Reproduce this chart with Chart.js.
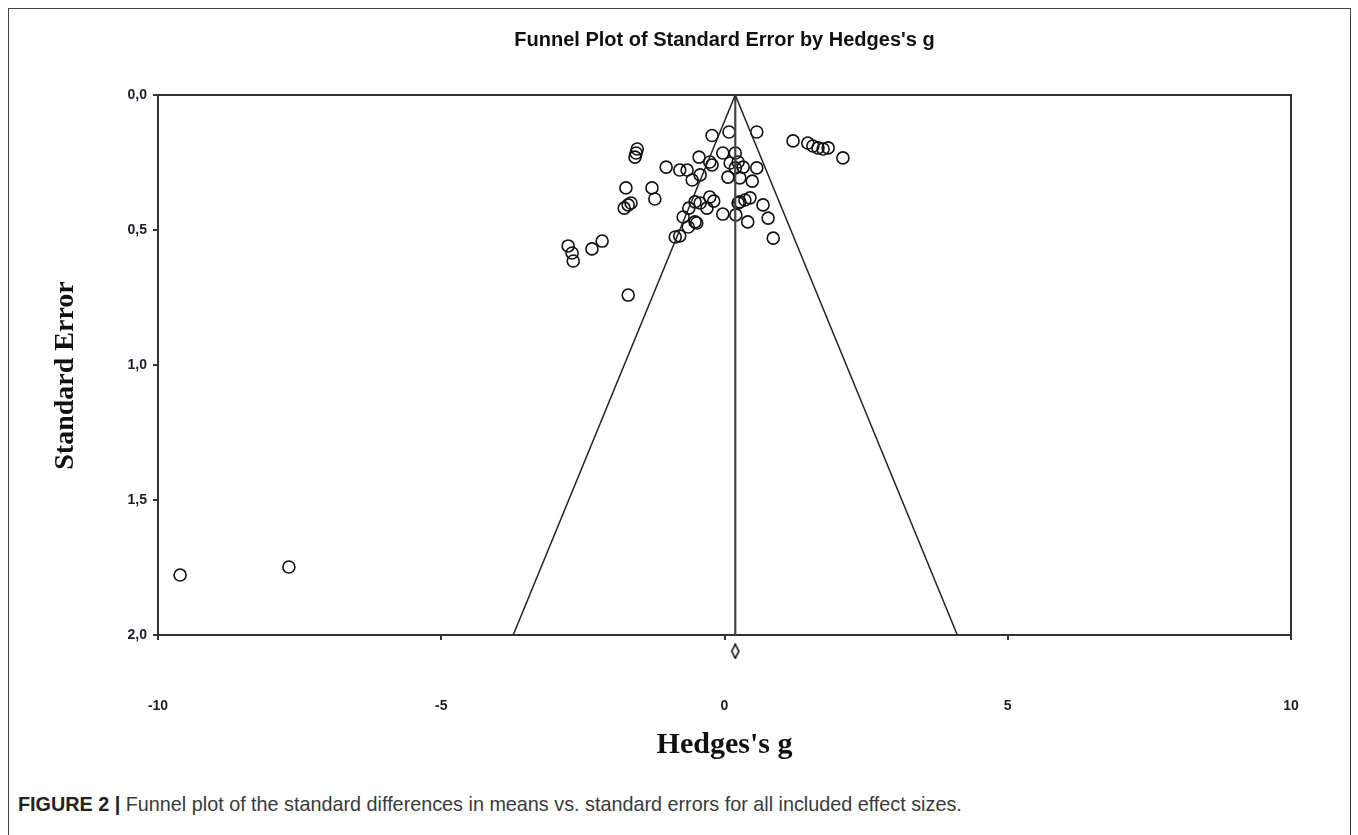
<!DOCTYPE html>
<html>
<head>
<meta charset="utf-8">
<script src="https://cdn.jsdelivr.net/npm/chart.js@4/dist/chart.umd.min.js"></script>
<style>
    body { margin: 0; background: #fff; width: 1358px; height: 835px; position: relative; overflow: hidden; }
    #frame { position: absolute; left: 8px; top: 8px; width: 1341px; height: 900px; border: 1px solid #444; }
    #wrap { position: absolute; left: 0; top: 0; width: 1358px; height: 780px; }
    #caption { position: absolute; left: 18px; top: 793px; font-family: "Liberation Sans", Arial, sans-serif; font-size: 19.8px; color: #3a3a3a; }
    #caption b { color: #222; }
</style>
</head>
<body>
<div id="frame"></div>
<div id="wrap"><canvas id="funnel"></canvas></div>
<div id="caption"><b>FIGURE 2 |</b> Funnel plot of the standard differences in means vs. standard errors for all included effect sizes.</div>
<script>
// study effect sizes (Hedges's g) and their standard errors
const hedgesG = [-0.22, 0.08, 0.57, 1.21, 1.47, 1.56, 1.65, 1.74, 1.83, 2.09,
    -1.54, -1.56, -1.58, -0.45, -0.03, 0.19, -0.26, -0.22, -1.03, -0.79,
    -0.66, -0.43, -0.57, 0.10, 0.24, 0.33, 0.19, 0.57, 0.06, 0.27,
    0.49, -1.74, -1.28, -1.23, -1.77, -1.70, -1.65, -0.52, -0.43, -0.26,
    -0.19, -0.31, 0.27, 0.36, 0.45, 0.24, 0.68, -0.03, 0.20, 0.41,
    0.77, 0.86, -0.73, -0.52, -0.64, -0.49, -0.87, -0.79, -2.76, -2.69,
    -2.67, -2.34, -2.16, -1.70, -9.61, -7.69, -0.63];
const stdError = [0.150, 0.137, 0.137, 0.170, 0.178, 0.189, 0.196, 0.200, 0.196, 0.233,
    0.200, 0.215, 0.230, 0.230, 0.215, 0.215, 0.248, 0.259, 0.267, 0.278,
    0.278, 0.296, 0.315, 0.252, 0.248, 0.267, 0.270, 0.270, 0.304, 0.307,
    0.319, 0.344, 0.344, 0.385, 0.419, 0.407, 0.400, 0.396, 0.400, 0.378,
    0.393, 0.419, 0.396, 0.389, 0.381, 0.400, 0.407, 0.441, 0.444, 0.470,
    0.456, 0.530, 0.452, 0.470, 0.489, 0.474, 0.526, 0.522, 0.559, 0.585,
    0.615, 0.570, 0.541, 0.741, 1.778, 1.748, 0.419];

const summaryG = 0.19;      // pooled effect
const summarySE = 2.06;     // where the summary diamond sits (below the axis)
const seMax = 2;
const z = 1.96;

const xTicks = [-10, -5, 0, 5, 10];
const yTicks = [0, 0.5, 1, 1.5, 2];

const points = hedgesG.map((g, i) => ({ x: g, y: stdError[i] }));
const leftLimit = [{ x: summaryG, y: 0 }, { x: summaryG - z * seMax, y: seMax }];
const rightLimit = [{ x: summaryG, y: 0 }, { x: summaryG + z * seMax, y: seMax }];
const centerLine = [{ x: summaryG, y: 0 }, { x: summaryG, y: seMax }];

// narrow diamond marker for the summary effect
function diamondMarker() {
    var c = document.createElement('canvas');
    c.width = 10; c.height = 16;
    var g = c.getContext('2d');
    g.strokeStyle = '#111';
    g.lineWidth = 1.6;
    g.beginPath();
    g.moveTo(5, 1); g.lineTo(8.5, 8); g.lineTo(5, 15); g.lineTo(1.5, 8);
    g.closePath();
    g.stroke();
    return c;
}

const boxLines = {
    id: 'boxLines',
    afterDatasetsDraw(chart) {
        const a = chart.chartArea;
        const ctx = chart.ctx;
        ctx.save();
        ctx.strokeStyle = '#333';
        ctx.lineWidth = 2;
        ctx.beginPath();
        ctx.moveTo(a.left, a.top);
        ctx.lineTo(a.right, a.top);
        ctx.lineTo(a.right, a.bottom);
        ctx.stroke();
        ctx.restore();
    }
};

const tickFont = { family: 'Arial, "Liberation Sans"', size: 14, weight: 'bold' };

new Chart(document.getElementById('funnel'), {
    type: 'scatter',
    data: {
        datasets: [
            {
                data: leftLimit, showLine: true, pointRadius: 0,
                borderColor: '#222', borderWidth: 1.5
            }, {
                data: rightLimit, showLine: true, pointRadius: 0,
                borderColor: '#222', borderWidth: 1.5
            }, {
                data: centerLine, showLine: true, pointRadius: 0,
                borderColor: '#444', borderWidth: 2.2
            }, {
                data: points,
                pointStyle: 'circle',
                pointRadius: 6,
                borderWidth: 1.6,
                borderColor: '#111',
                backgroundColor: 'rgba(0,0,0,0)'
            }, {
                // big radius so the point passes the in-area test; image keeps its own size
                data: [{ x: summaryG, y: summarySE }],
                pointStyle: diamondMarker(),
                pointRadius: 24,
                borderWidth: 0,
                clip: false
            }
        ]
    },
    options: {
        responsive: true,
        maintainAspectRatio: false,
        animation: false,
        layout: { padding: { left: 0, right: 67, top: 0, bottom: 0 } },
        plugins: {
            legend: { display: false },
            tooltip: { enabled: false },
            title: {
                display: true,
                fullSize: false,
                text: "Funnel Plot of Standard Error by Hedges's g",
                color: '#111',
                font: { family: 'Arial, "Liberation Sans"', size: 20, weight: 'bold', lineHeight: 1.2 },
                padding: { top: 28, bottom: 43 }
            }
        },
        scales: {
            x: {
                type: 'linear',
                min: -10,
                max: 10,
                afterBuildTicks: s => { s.ticks = xTicks.map(v => ({ value: v })); },
                afterFit: s => { s.height = 145; },
                grid: { drawOnChartArea: false, drawTicks: true, tickLength: 5, color: '#333', lineWidth: 2 },
                border: { display: true, color: '#333', width: 2 },
                ticks: { color: '#1c1c2a', font: tickFont, padding: 58, maxRotation: 0 },
                title: {
                    display: true,
                    text: "Hedges's g",
                    color: '#111',
                    font: { family: '"Liberation Serif", "Times New Roman", serif', size: 30, weight: 'bold', lineHeight: 1.2 },
                    padding: { top: 0, bottom: 17 }
                }
            },
            y: {
                type: 'linear',
                reverse: true,
                min: 0,
                max: 2,
                afterBuildTicks: s => { s.ticks = yTicks.map(v => ({ value: v })); },
                afterFit: s => { s.width = 158; },
                grid: { drawOnChartArea: false, drawTicks: true, tickLength: 5, color: '#333', lineWidth: 2 },
                border: { display: true, color: '#333', width: 2 },
                ticks: {
                    color: '#1c1c2a',
                    font: tickFont,
                    padding: 6,
                    callback: v => v.toFixed(1).replace('.', ',')
                },
                title: {
                    display: true,
                    text: 'Standard Error   ',
                    color: '#111',
                    font: { family: '"Liberation Serif", "Times New Roman", serif', size: 28, weight: 'bold', lineHeight: 1.2 },
                    padding: { top: 49, bottom: 0 }
                }
            }
        }
    },
    plugins: [boxLines]
});
</script>
</body>
</html>
